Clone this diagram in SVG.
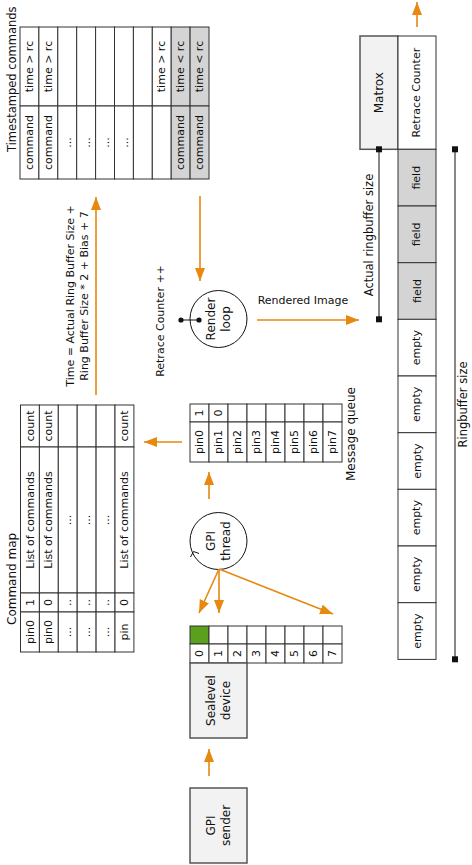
<svg xmlns="http://www.w3.org/2000/svg" width="472" height="865" viewBox="0 0 472 865">
<defs>
<style>
text{font-family:"DejaVu Sans","Liberation Sans",sans-serif;font-size:11px;fill:#111}
.r{text-anchor:middle;dominant-baseline:central}
.t{font-size:12px}
.n{font-size:12px}
.d{font-size:11.5px}
.s{text-anchor:start;dominant-baseline:central}
.c{fill:#fff;stroke:#333;stroke-width:1}
.g{fill:#d4d4d4;stroke:#333;stroke-width:1}
.box{fill:#f2f2f2;stroke:#555;stroke-width:1.5}
.o{stroke:#e8880e;stroke-width:1.6;fill:none;marker-end:url(#ah)}
.k{stroke:#111;stroke-width:1;fill:none}
</style>
<marker id="ah" markerUnits="userSpaceOnUse" markerWidth="14" markerHeight="11" refX="13" refY="5" orient="auto">
<path d="M0,0 L13,5 L0,10 z" fill="#e8880e"/>
</marker>
</defs>

<g id="timestamped-commands">
<text class="s" style="font-size:11.5px" x="12" y="152" transform="rotate(-90 12 152)">Timestamped commands</text>
<rect class="c" x="20" y="27" width="18.9" height="79"/><rect class="c" x="20" y="106" width="18.9" height="73"/>
<rect class="c" x="38.9" y="27" width="18.9" height="79"/><rect class="c" x="38.9" y="106" width="18.9" height="73"/>
<rect class="c" x="57.8" y="27" width="18.9" height="79"/><rect class="c" x="57.8" y="106" width="18.9" height="73"/>
<rect class="c" x="76.7" y="27" width="18.9" height="79"/><rect class="c" x="76.7" y="106" width="18.9" height="73"/>
<rect class="c" x="95.6" y="27" width="18.9" height="79"/><rect class="c" x="95.6" y="106" width="18.9" height="73"/>
<rect class="c" x="114.5" y="27" width="18.9" height="79"/><rect class="c" x="114.5" y="106" width="18.9" height="73"/>
<rect class="c" x="133.4" y="27" width="18.9" height="79"/><rect class="c" x="133.4" y="106" width="18.9" height="73"/>
<rect class="c" x="152.3" y="27" width="18.9" height="79"/><rect class="c" x="152.3" y="106" width="18.9" height="73"/>
<rect class="g" x="171.2" y="27" width="18.9" height="79"/><rect class="g" x="171.2" y="106" width="18.9" height="73"/>
<rect class="g" x="190.1" y="27" width="18.9" height="79"/><rect class="g" x="190.1" y="106" width="18.9" height="73"/>
<text class="r" x="29.5" y="66.5" transform="rotate(-90 29.5 66.5)">time &gt; rc</text>
<text class="r" x="29.5" y="142.5" transform="rotate(-90 29.5 142.5)">command</text>
<text class="r" x="48.4" y="66.5" transform="rotate(-90 48.4 66.5)">time &gt; rc</text>
<text class="r" x="48.4" y="142.5" transform="rotate(-90 48.4 142.5)">command</text>
<text class="r" x="67.3" y="142.5" transform="rotate(-90 67.3 142.5)">...</text>
<text class="r" x="86.2" y="142.5" transform="rotate(-90 86.2 142.5)">...</text>
<text class="r" x="105.1" y="142.5" transform="rotate(-90 105.1 142.5)">...</text>
<text class="r" x="124" y="142.5" transform="rotate(-90 124 142.5)">...</text>
<text class="r" x="161.8" y="66.5" transform="rotate(-90 161.8 66.5)">time &gt; rc</text>
<text class="r" x="180.7" y="66.5" transform="rotate(-90 180.7 66.5)">time &lt; rc</text>
<text class="r" x="180.7" y="142.5" transform="rotate(-90 180.7 142.5)">command</text>
<text class="r" x="199.6" y="66.5" transform="rotate(-90 199.6 66.5)">time &lt; rc</text>
<text class="r" x="199.6" y="142.5" transform="rotate(-90 199.6 142.5)">command</text>
</g>

<g id="command-map">
<text class="s t" x="12" y="625" transform="rotate(-90 12 625)">Command map</text>
<g>
<rect class="c" x="20.5" y="405" width="18.9" height="42"/><rect class="c" x="20.5" y="447" width="18.9" height="146"/><rect class="c" x="20.5" y="593" width="18.9" height="19"/><rect class="c" x="20.5" y="612" width="18.9" height="40"/>
<rect class="c" x="39.4" y="405" width="18.9" height="42"/><rect class="c" x="39.4" y="447" width="18.9" height="146"/><rect class="c" x="39.4" y="593" width="18.9" height="19"/><rect class="c" x="39.4" y="612" width="18.9" height="40"/>
<rect class="c" x="58.3" y="405" width="18.9" height="42"/><rect class="c" x="58.3" y="447" width="18.9" height="146"/><rect class="c" x="58.3" y="593" width="18.9" height="19"/><rect class="c" x="58.3" y="612" width="18.9" height="40"/>
<rect class="c" x="77.2" y="405" width="18.9" height="42"/><rect class="c" x="77.2" y="447" width="18.9" height="146"/><rect class="c" x="77.2" y="593" width="18.9" height="19"/><rect class="c" x="77.2" y="612" width="18.9" height="40"/>
<rect class="c" x="96.1" y="405" width="18.9" height="42"/><rect class="c" x="96.1" y="447" width="18.9" height="146"/><rect class="c" x="96.1" y="593" width="18.9" height="19"/><rect class="c" x="96.1" y="612" width="18.9" height="40"/>
<rect class="c" x="115" y="405" width="18.9" height="42"/><rect class="c" x="115" y="447" width="18.9" height="146"/><rect class="c" x="115" y="593" width="18.9" height="19"/><rect class="c" x="115" y="612" width="18.9" height="40"/>
</g>
<text class="r" x="30" y="426" transform="rotate(-90 30 426)">count</text>
<text class="r" x="30" y="520" transform="rotate(-90 30 520)">List of commands</text>
<text class="r" x="30" y="602.5" transform="rotate(-90 30 602.5)">1</text>
<text class="r" x="30" y="632" transform="rotate(-90 30 632)">pin0</text>
<text class="r" x="48.9" y="426" transform="rotate(-90 48.9 426)">count</text>
<text class="r" x="48.9" y="520" transform="rotate(-90 48.9 520)">List of commands</text>
<text class="r" x="48.9" y="602.5" transform="rotate(-90 48.9 602.5)">0</text>
<text class="r" x="48.9" y="632" transform="rotate(-90 48.9 632)">pin0</text>
<text class="r" x="67.8" y="520" transform="rotate(-90 67.8 520)">...</text>
<text class="r" x="67.8" y="602.5" transform="rotate(-90 67.8 602.5)">..</text>
<text class="r" x="67.8" y="632" transform="rotate(-90 67.8 632)">...</text>
<text class="r" x="86.7" y="520" transform="rotate(-90 86.7 520)">...</text>
<text class="r" x="86.7" y="602.5" transform="rotate(-90 86.7 602.5)">..</text>
<text class="r" x="86.7" y="632" transform="rotate(-90 86.7 632)">...</text>
<text class="r" x="105.6" y="520" transform="rotate(-90 105.6 520)">...</text>
<text class="r" x="105.6" y="602.5" transform="rotate(-90 105.6 602.5)">..</text>
<text class="r" x="105.6" y="632" transform="rotate(-90 105.6 632)">...</text>
<text class="r" x="124.5" y="426" transform="rotate(-90 124.5 426)">count</text>
<text class="r" x="124.5" y="520" transform="rotate(-90 124.5 520)">List of commands</text>
<text class="r" x="124.5" y="602.5" transform="rotate(-90 124.5 602.5)">0</text>
<text class="r" x="124.5" y="632" transform="rotate(-90 124.5 632)">pin</text>
</g>

<g id="formula-label">
<text class="r" x="70" y="296" transform="rotate(-90 70 296)">Time = Actual Ring Buffer Size +</text>
<text class="r" x="84" y="296" transform="rotate(-90 84 296)">Ring Buffer Size * 2 + Bias + 7</text>
</g>

<g id="message-queue">
<rect class="c" x="190" y="404" width="19" height="18"/><rect class="c" x="190" y="422" width="19" height="40"/>
<rect class="c" x="209" y="404" width="19" height="18"/><rect class="c" x="209" y="422" width="19" height="40"/>
<rect class="c" x="228" y="404" width="19" height="18"/><rect class="c" x="228" y="422" width="19" height="40"/>
<rect class="c" x="247" y="404" width="19" height="18"/><rect class="c" x="247" y="422" width="19" height="40"/>
<rect class="c" x="266" y="404" width="19" height="18"/><rect class="c" x="266" y="422" width="19" height="40"/>
<rect class="c" x="285" y="404" width="19" height="18"/><rect class="c" x="285" y="422" width="19" height="40"/>
<rect class="c" x="304" y="404" width="19" height="18"/><rect class="c" x="304" y="422" width="19" height="40"/>
<rect class="c" x="323" y="404" width="19" height="18"/><rect class="c" x="323" y="422" width="19" height="40"/>
<text class="r" x="199.5" y="413" transform="rotate(-90 199.5 413)">1</text>
<text class="r" x="218.5" y="413" transform="rotate(-90 218.5 413)">0</text>
<text class="r" x="199.5" y="442" transform="rotate(-90 199.5 442)">pin0</text>
<text class="r" x="218.5" y="442" transform="rotate(-90 218.5 442)">pin1</text>
<text class="r" x="237.5" y="442" transform="rotate(-90 237.5 442)">pin2</text>
<text class="r" x="256.5" y="442" transform="rotate(-90 256.5 442)">pin3</text>
<text class="r" x="275.5" y="442" transform="rotate(-90 275.5 442)">pin4</text>
<text class="r" x="294.5" y="442" transform="rotate(-90 294.5 442)">pin5</text>
<text class="r" x="313.5" y="442" transform="rotate(-90 313.5 442)">pin6</text>
<text class="r" x="332.5" y="442" transform="rotate(-90 332.5 442)">pin7</text>
<text class="r t" x="351" y="434" transform="rotate(-90 351 434)">Message queue</text>
</g>

<g id="render-loop">
<circle cx="218.5" cy="319" r="28.5" fill="#fff" stroke="#111" stroke-width="1"/>
<text class="r n" x="210.5" y="319" transform="rotate(-90 210.5 319)">Render</text>
<text class="r n" x="226" y="319" transform="rotate(-90 226 319)">loop</text>
<line class="k" x1="181" y1="320" x2="199" y2="320"/>
<circle cx="181" cy="320" r="2.6" fill="#111"/>
<circle cx="199" cy="320" r="2.6" fill="#111"/>
<text class="r" x="160" y="321" transform="rotate(-90 160 321)">Retrace Counter ++</text>
<text x="303" y="300" text-anchor="middle" dominant-baseline="central">Rendered Image</text>
</g>

<g id="gpi-thread">
<circle cx="218.5" cy="541" r="28.5" fill="#fff" stroke="#111" stroke-width="1"/>
<polyline class="k" points="190.5,557 193.5,551.5 199,553.5"/>
<text class="r n" x="210.5" y="541" transform="rotate(-90 210.5 541)">GPI</text>
<text class="r n" x="226" y="541" transform="rotate(-90 226 541)">thread</text>
</g>

<g id="sealevel-device">
<rect class="c" x="190" y="626" width="19" height="18" style="fill:#5aa01c"/><rect class="c" x="190" y="644" width="19" height="19"/>
<rect class="c" x="209" y="626" width="19" height="18"/><rect class="c" x="209" y="644" width="19" height="19"/>
<rect class="c" x="228" y="626" width="19" height="18"/><rect class="c" x="228" y="644" width="19" height="19"/>
<rect class="c" x="247" y="626" width="19" height="18"/><rect class="c" x="247" y="644" width="19" height="19"/>
<rect class="c" x="266" y="626" width="19" height="18"/><rect class="c" x="266" y="644" width="19" height="19"/>
<rect class="c" x="285" y="626" width="19" height="18"/><rect class="c" x="285" y="644" width="19" height="19"/>
<rect class="c" x="304" y="626" width="19" height="18"/><rect class="c" x="304" y="644" width="19" height="19"/>
<rect class="c" x="323" y="626" width="19" height="18"/><rect class="c" x="323" y="644" width="19" height="19"/>
<text class="r" x="199.5" y="653.5" transform="rotate(-90 199.5 653.5)">0</text>
<text class="r" x="218.5" y="653.5" transform="rotate(-90 218.5 653.5)">1</text>
<text class="r" x="237.5" y="653.5" transform="rotate(-90 237.5 653.5)">2</text>
<text class="r" x="256.5" y="653.5" transform="rotate(-90 256.5 653.5)">3</text>
<text class="r" x="275.5" y="653.5" transform="rotate(-90 275.5 653.5)">4</text>
<text class="r" x="294.5" y="653.5" transform="rotate(-90 294.5 653.5)">5</text>
<text class="r" x="313.5" y="653.5" transform="rotate(-90 313.5 653.5)">6</text>
<text class="r" x="332.5" y="653.5" transform="rotate(-90 332.5 653.5)">7</text>
<rect class="box" x="190" y="663" width="57" height="75"/>
<text class="r n" x="210.5" y="700.5" transform="rotate(-90 210.5 700.5)">Sealevel</text>
<text class="r n" x="226" y="700.5" transform="rotate(-90 226 700.5)">device</text>
</g>

<g id="gpi-sender">
<rect class="box" x="190" y="788" width="57" height="75"/>
<text class="r n" x="210.5" y="825.5" transform="rotate(-90 210.5 825.5)">GPI</text>
<text class="r n" x="226" y="825.5" transform="rotate(-90 226 825.5)">sender</text>
</g>

<g id="matrox">
<rect class="box" x="360" y="36" width="38" height="113.3"/>
<text class="r n" x="379" y="92.7" transform="rotate(-90 379 92.7)">Matrox</text>
</g>

<g id="ringbuffer">
<rect class="c" x="398" y="36" width="38" height="113.3"/>
<text class="r" x="417" y="92.7" transform="rotate(-90 417 92.7)">Retrace Counter</text>
<rect class="g" x="398" y="149.3" width="38" height="56.7"/>
<rect class="g" x="398" y="206" width="38" height="56.7"/>
<rect class="g" x="398" y="262.7" width="38" height="56.7"/>
<rect class="c" x="398" y="319.3" width="38" height="56.7"/>
<rect class="c" x="398" y="376" width="38" height="56.7"/>
<rect class="c" x="398" y="432.7" width="38" height="56.7"/>
<rect class="c" x="398" y="489.3" width="38" height="56.7"/>
<rect class="c" x="398" y="546" width="38" height="56.7"/>
<rect class="c" x="398" y="602.7" width="38" height="56.7"/>
<text class="r" x="417" y="177.7" transform="rotate(-90 417 177.7)">field</text>
<text class="r" x="417" y="234.3" transform="rotate(-90 417 234.3)">field</text>
<text class="r" x="417" y="291" transform="rotate(-90 417 291)">field</text>
<text class="r" x="417" y="347.7" transform="rotate(-90 417 347.7)">empty</text>
<text class="r" x="417" y="404.3" transform="rotate(-90 417 404.3)">empty</text>
<text class="r" x="417" y="461" transform="rotate(-90 417 461)">empty</text>
<text class="r" x="417" y="517.7" transform="rotate(-90 417 517.7)">empty</text>
<text class="r" x="417" y="574.3" transform="rotate(-90 417 574.3)">empty</text>
<text class="r" x="417" y="631" transform="rotate(-90 417 631)">empty</text>
</g>

<g id="dimensions">
<line class="k" x1="379" y1="149.3" x2="379" y2="319.3"/>
<rect x="376" y="146.3" width="6" height="6" fill="#111"/>
<rect x="376" y="316.3" width="6" height="6" fill="#111"/>
<text class="r d" x="369" y="235" transform="rotate(-90 369 235)">Actual ringbuffer size</text>
<line class="k" x1="455" y1="149.3" x2="455" y2="659.3"/>
<rect x="452" y="146.3" width="6" height="6" fill="#111"/>
<rect x="452" y="656.3" width="6" height="6" fill="#111"/>
<text class="r d" x="463" y="404.5" transform="rotate(-90 463 404.5)">Ringbuffer size</text>
</g>

<g id="connectors">
<line class="o" x1="200" y1="196" x2="200" y2="281"/>
<line class="o" x1="257" y1="320" x2="359" y2="320"/>
<line class="o" x1="417" y1="27" x2="417" y2="2"/>
<line class="o" x1="96" y1="395" x2="96" y2="197"/>
<line class="o" x1="182" y1="442" x2="144" y2="442"/>
<line class="o" x1="209" y1="499" x2="209" y2="472"/>
<line class="o" x1="219" y1="569" x2="199" y2="613"/>
<line class="o" x1="219" y1="569" x2="219" y2="613"/>
<line class="o" x1="219" y1="569" x2="333" y2="614"/>
<line class="o" x1="209" y1="776" x2="209" y2="749"/>
</g>
</svg>
